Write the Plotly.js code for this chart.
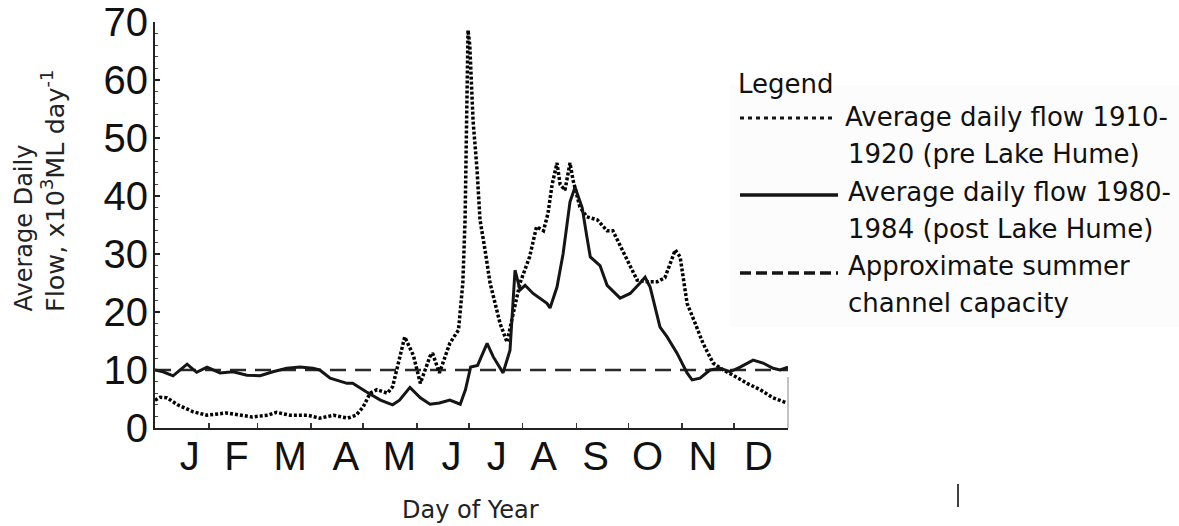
<!DOCTYPE html>
<html>
<head>
<meta charset="utf-8">
<script src="https://cdn.plot.ly/plotly-3.0.1.min.js"></script>
<style>
  html, body { margin: 0; padding: 0; background: #ffffff; }
  #chart { width: 1179px; height: 526px; }
</style>
</head>
<body>
<div id="chart"></div>
<script>
// ---- Data ----
const preDays = [0, 3, 7, 13, 22, 30, 41, 49, 56, 65, 70, 78, 88, 95, 103, 111, 116, 120, 124, 128, 134, 137, 141, 144, 149, 153, 158.5, 160, 164, 170, 175, 177.5, 178.8, 179.5, 180, 180.5, 181.5, 183.4, 185.7, 187.4, 190.3, 193.2, 199, 203, 206, 210.5, 216, 220, 224, 226.6, 229, 231.8, 233.6, 236.4, 239.3, 241, 245, 249, 255, 260.7, 264, 268, 274, 278, 283.7, 289.5, 294, 300, 302.8, 306.8, 311.4, 316, 321.8, 327.6, 333.3, 341.4, 349, 356.4, 364.5];
const preFlow = [4.8, 5.3, 5.2, 4.0, 2.8, 2.2, 2.6, 2.2, 1.9, 2.2, 2.7, 2.2, 2.2, 1.7, 2.2, 1.7, 2.2, 3.6, 6.0, 6.6, 6.0, 7.1, 11.7, 15.7, 12.5, 7.7, 12.3, 12.9, 9.5, 14.6, 16.9, 25, 36, 50, 60, 68.6, 66, 53, 44.5, 35.9, 30.7, 25, 18, 14.8, 19, 25, 29.5, 34.7, 34, 37, 42, 45.7, 42, 41, 45.7, 42.8, 38.1, 36.4, 35.9, 34, 34, 31.5, 27.8, 25.5, 25.2, 25.2, 25.9, 30.7, 29.5, 21.5, 18.1, 14.6, 11.2, 10, 9.1, 7.7, 6.6, 5.2, 4.3];

const postDays = [0, 4.6, 10.4, 18.5, 24, 30, 37.5, 45, 53, 60.6, 68, 76, 83.6, 91, 95, 101, 110.7, 114, 122, 130, 137, 141, 147, 153, 158.6, 164, 170, 176, 179, 182, 186, 191.5, 195, 200.7, 204.7, 207.6, 210.5, 213.4, 218, 226, 227.8, 231.8, 235.3, 239.3, 242.2, 246.3, 249, 251, 256.6, 260.7, 268.2, 274, 279.7, 282.6, 285.5, 291.2, 295.3, 301, 306.8, 309.7, 314.3, 320, 325.8, 331.6, 337.4, 344.9, 350.6, 356.4, 360.4, 365];
const postFlow = [10, 9.7, 9.0, 11.0, 9.6, 10.5, 9.5, 9.7, 9.1, 9.0, 9.7, 10.3, 10.5, 10.3, 10.0, 8.6, 7.7, 7.7, 6.2, 4.8, 4.0, 4.8, 7.0, 5.2, 4.1, 4.3, 4.8, 4.1, 6.6, 10.5, 10.8, 14.6, 12.3, 9.5, 13.4, 27.2, 23.8, 24.6, 23.2, 21.5, 20.7, 24.3, 30, 39, 41.5, 38, 33, 29.5, 28, 24.6, 22.4, 23.2, 25, 26, 24.3, 17.4, 15.7, 12.9, 9.5, 8.3, 8.6, 10, 10.3, 9.7, 10.5, 11.7, 11.2, 10.3, 10.0, 10.5];

const capacityDays = [0, 365];
const capacityFlow = [10, 10];

const monthLabels = ['J', 'F', 'M', 'A', 'M', 'J', 'J', 'A', 'S', 'O', 'N', 'D'];
const monthLabelDays = [20, 47, 78, 110, 141, 171, 197, 224, 254, 284, 316, 348];
const monthBoundaries = [31, 59, 90, 120, 151, 181, 212, 243, 273, 304, 334];
const yTicks = [0, 10, 20, 30, 40, 50, 60, 70];

const yTitleLine1 = 'Average Daily';
const yTitleLine2 = 'Flow, x10<sup>3</sup>ML day<sup>-1</sup>';
const xTitle = 'Day of Year';
const legendTitle = 'Legend';
const legendLines = [
  'Average daily flow 1910-',
  '1920 (pre Lake Hume)',
  'Average daily flow 1980-',
  '1984 (post Lake Hume)',
  'Approximate summer',
  'channel capacity'
];

// ---- Layout helpers (pixel -> paper) ----
const L = 155, R = 391, T = 22, B = 98, W = 1179, H = 526;
const PW = W - L - R, PH = H - T - B;
const px = v => (v - L) / PW;
const py = v => (H - B - v) / PH;

const ink = '#151515';
const titleFont = 'DejaVu Sans, Verdana, sans-serif';
const tickFont = 'Liberation Sans, Arial, sans-serif';

const traces = [
  { x: capacityDays, y: capacityFlow, mode: 'lines', type: 'scatter',
    line: { color: '#2a2a2a', width: 2.5, dash: '16px,9px' }, hoverinfo: 'skip' },
  { x: preDays, y: preFlow, mode: 'lines', type: 'scatter',
    line: { color: '#000', width: 3.5, dash: '3px,2px' }, hoverinfo: 'skip' },
  { x: postDays, y: postFlow, mode: 'lines', type: 'scatter',
    line: { color: ink, width: 3 }, hoverinfo: 'skip' }
];

const annotations = [
  { xref: 'paper', yref: 'paper', x: px(23), y: py(314), xanchor: 'center', yanchor: 'bottom',
    textangle: -90, showarrow: false, text: yTitleLine1,
    font: { family: titleFont, size: 24, color: '#222' } },
  { xref: 'paper', yref: 'paper', x: px(53), y: py(314), xanchor: 'center', yanchor: 'bottom',
    textangle: -90, showarrow: false, text: yTitleLine2,
    font: { family: titleFont, size: 25.5, color: '#222' } },
  { xref: 'paper', yref: 'paper', x: px(470), y: py(510), xanchor: 'center', yanchor: 'middle',
    showarrow: false, text: xTitle,
    font: { family: titleFont, size: 24, color: '#222' } },
  { xref: 'paper', yref: 'paper', x: px(736), y: py(84), xanchor: 'left', yanchor: 'middle',
    showarrow: false, text: legendTitle,
    font: { family: titleFont, size: 26, color: '#111' } }
];
const lineY = [117, 154, 192, 229, 266, 303];
legendLines.forEach((t, i) => {
  annotations.push({ xref: 'paper', yref: 'paper', x: px(i === 0 ? 843 : 846), y: py(lineY[i]),
    xanchor: 'left', yanchor: 'middle', showarrow: false, text: t,
    font: { family: titleFont, size: 26, color: '#111' } });
});

const shapes = [
  { type: 'rect', xref: 'paper', yref: 'paper', x0: px(730), x1: px(1179), y0: py(327), y1: py(85),
    fillcolor: '#fcfcfc', line: { width: 0 }, layer: 'below' },
  { type: 'line', xref: 'paper', yref: 'paper', x0: px(740), x1: px(836), y0: py(118), y1: py(118),
    line: { color: ink, width: 3, dash: '4px,4px' } },
  { type: 'line', xref: 'paper', yref: 'paper', x0: px(740), x1: px(838), y0: py(195), y1: py(195),
    line: { color: ink, width: 3.5 } },
  { type: 'line', xref: 'paper', yref: 'paper', x0: px(740), x1: px(838), y0: py(273), y1: py(273),
    line: { color: ink, width: 3.5, dash: '11px,5px' } },
  { type: 'line', xref: 'paper', yref: 'paper', x0: 1, x1: 1, y0: 0, y1: py(377),
    line: { color: '#999', width: 1.2 } },
  { type: 'line', xref: 'paper', yref: 'paper', x0: px(958), x1: px(958), y0: py(484), y1: py(507),
    line: { color: '#111', width: 1.6 } }
];

const layout = {
  width: W, height: H,
  margin: { l: L, r: R, t: T, b: B, pad: 0 },
  paper_bgcolor: '#ffffff', plot_bgcolor: '#ffffff',
  showlegend: false,
  xaxis: {
    range: [0, 365], showgrid: false, zeroline: false,
    showline: true, linecolor: '#222', linewidth: 2,
    tickmode: 'array', tickvals: monthLabelDays, ticktext: monthLabels,
    ticks: '', ticklabelstandoff: -8,
    tickfont: { family: tickFont, size: 40, color: '#111' },
    minor: { tickmode: 'array', tickvals: monthBoundaries, ticks: 'inside', ticklen: 5,
             tickwidth: 1.5, tickcolor: '#333', showgrid: false }
  },
  yaxis: {
    range: [0, 70], showgrid: false, zeroline: false,
    showline: true, linecolor: '#222', linewidth: 2,
    tickmode: 'array', tickvals: yTicks,
    ticks: 'inside', ticklen: 5, tickwidth: 2, tickcolor: '#222',
    ticklabelstandoff: -3,
    tickfont: { family: tickFont, size: 40, color: '#111' },
    minor: { dtick: 2, ticks: 'inside', ticklen: 3, tickwidth: 1.2, tickcolor: '#444', showgrid: false }
  },
  annotations: annotations,
  shapes: shapes
};

Plotly.newPlot('chart', traces, layout, { staticPlot: true, displayModeBar: false });
</script>
</body>
</html>
